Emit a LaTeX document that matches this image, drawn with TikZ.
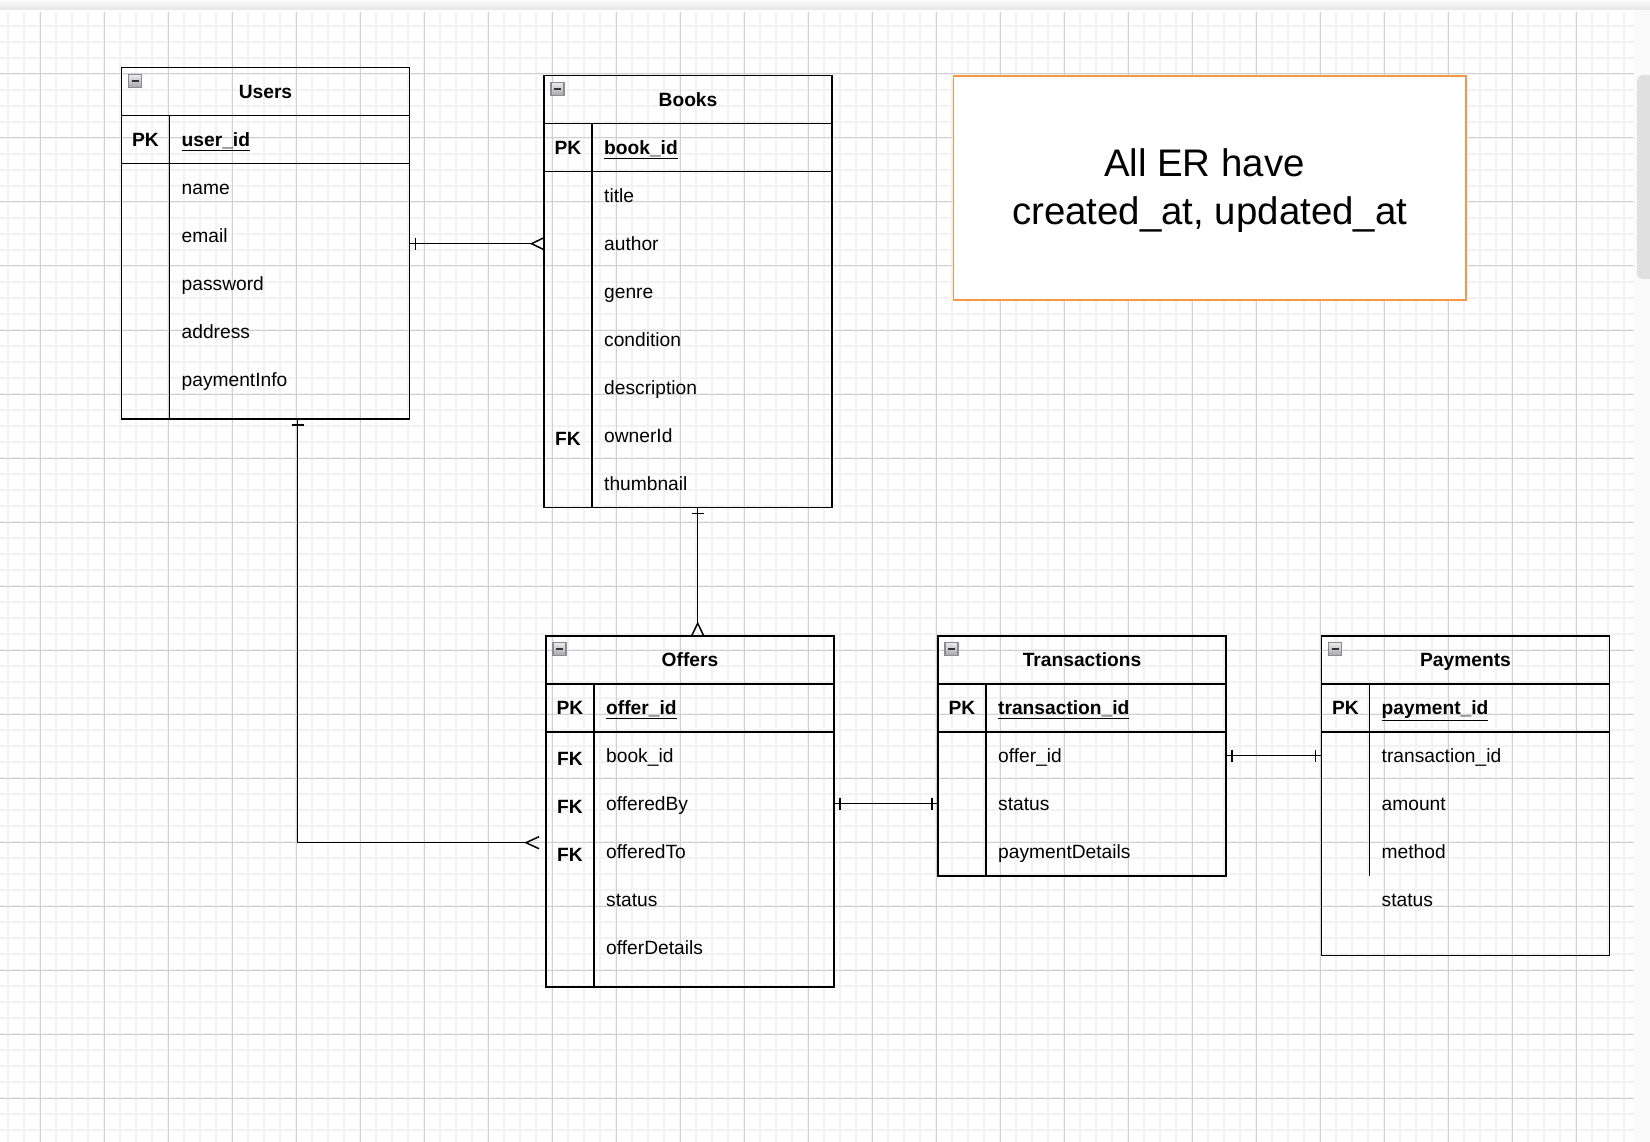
\documentclass[tikz,border=0pt]{standalone}
\usepackage{fontspec}
\setmainfont{Liberation Sans}
\usetikzlibrary{calc}

\definecolor{gridminor}{RGB}{242,242,242}
\definecolor{gridmajor}{RGB}{208,208,208}
\definecolor{noteorange}{RGB}{245,152,70}
\definecolor{iconedge}{RGB}{138,138,152}

\begin{document}
\begin{tikzpicture}[x=1pt,y=-1pt,
    tablebox/.style={draw, line width=1.6pt, anchor=north west, minimum width=288pt, inner sep=0pt, outer sep=0pt},
    tabline/.style={line width=1.6pt},
    rel/.style={line width=1.5pt},
    titletxt/.style={inner sep=0pt, text height=13pt, text depth=0pt, font=\fontsize{19.2}{23}\selectfont\bfseries},
    keytxt/.style={inner sep=0pt, text height=13.6pt, text depth=0pt, font=\fontsize{19.2}{23}\selectfont\bfseries},
    fieldtxt/.style={anchor=west, inner sep=0pt, text height=13.6pt, text depth=0pt, font=\fontsize{19.2}{23}\selectfont},
    minusbox/.style={draw=iconedge, line width=1.2pt, top color=black!8, bottom color=black!35}
  ]

        % canvas
        \useasboundingbox (0,0) rectangle (1650,1142);
        \fill[white] (0,0) rectangle (1650,1142);
        \shade[top color=black!2, bottom color=black!10] (0,0) rectangle (1650,10);
        \fill[black!2] (1634,10) rectangle (1650,1142);
        \fill[black!12, rounded corners=6pt] (1637,75) rectangle (1660,279);

        % Grid
        \foreach \gx in {8,24,...,1624} \draw[gridminor, line width=1.6pt] (\gx,12) -- (\gx,1142);
        \foreach \gy in {26,42,...,1130} \draw[gridminor, line width=1.6pt] (0,\gy) -- (1634,\gy);
        \foreach \gx in {40,104,...,1592} \draw[gridmajor, line width=1pt] (\gx,12) -- (\gx,1142);
        \foreach \gy in {74,138,...,1098} \draw[gridmajor, line width=1pt] (0,\gy) -- (1634,\gy);

        % tables
        \node[tablebox, minimum height=351.3pt] (users) at (121.5,67.7) {};
        \node[tablebox, minimum height=431.6pt] (books) at (544,75.7) {};
        \node[tablebox, minimum height=351.3pt] (offers) at (546,635.7) {};
        \node[tablebox, minimum height=240pt] (trans) at (938,635.7) {};
        \node[tablebox, minimum height=319.8pt] (pay) at (1321.5,635.7) {};

        \foreach \tb in {users,books,offers,trans,pay} {
            \draw[tabline] ([yshift=-48pt]\tb.north west) -- ([yshift=-48pt]\tb.north east);
            \draw[tabline] ([yshift=-96pt]\tb.north west) -- ([yshift=-96pt]\tb.north east);
            \draw[minusbox] ([shift={(7pt,-7pt)}]\tb.north west) rectangle ++(13,13);
            \draw[line width=2pt, black!80] ([shift={(10pt,-13.5pt)}]\tb.north west) -- ++(7,0);
        }
        \foreach \tb in {users,books,offers,trans}
            \draw[tabline] ([shift={(48pt,-48pt)}]\tb.north west) -- ([xshift=48pt]\tb.south west);
        \draw[tabline] ([shift={(48pt,-48pt)}]pay.north west) -- ([shift={(48pt,-240pt)}]pay.north west);

        \node[titletxt] (users-title) at ([yshift=-24pt]users.north) {Users};
        \node[titletxt] (books-title) at ([yshift=-24pt]books.north) {Books};
        \node[titletxt] (offers-title) at ([yshift=-24pt]offers.north) {Offers};
        \node[titletxt] (trans-title) at ([yshift=-24pt]trans.north) {Transactions};
        \node[titletxt] (pay-title) at ([yshift=-24pt]pay.north) {Payments};

        % Users
        \node[keytxt] (users-pk) at (145.5,139.7) {PK};
        \node[fieldtxt] (users-0) at (181.5,139.7) {\textbf{\underline{user\_id}}};
        \foreach \f [count=\i] in {name,email,password,address,paymentInfo}
            \node[fieldtxt] (users-\i) at (181.5,{139.7+48*\i}) {\f};

        % Books
        \node[keytxt] (books-pk) at (568,147.7) {PK};
        \node[fieldtxt] (books-0) at (604,147.7) {\textbf{\underline{book\_id}}};
        \foreach \f [count=\i] in {title,author,genre,condition,description,ownerId,thumbnail}
            \node[fieldtxt] (books-\i) at (604,{147.7+48*\i}) {\f};
        \node[keytxt, yshift=-2.5pt] (books-fk) at (568,435.7) {FK};

        % Offers
        \node[keytxt] (offers-pk) at (570,707.7) {PK};
        \node[fieldtxt] (offers-0) at (606,707.7) {\textbf{\underline{offer\_id}}};
        \foreach \f [count=\i] in {book\_id,offeredBy,offeredTo,status,offerDetails}
            \node[fieldtxt] (offers-\i) at (606,{707.7+48*\i}) {\f};
        \foreach \i in {1,2,3}
            \node[keytxt, yshift=-2.5pt] (offers-fk\i) at (570,{707.7+48*\i}) {FK};

        % Transactions
        \node[keytxt] (trans-pk) at (962,707.7) {PK};
        \node[fieldtxt] (trans-0) at (998,707.7) {\textbf{\underline{transaction\_id}}};
        \foreach \f [count=\i] in {offer\_id,status,paymentDetails}
            \node[fieldtxt] (trans-\i) at (998,{707.7+48*\i}) {\f};

        % Payments
        \node[keytxt] (pay-pk) at (1345.5,707.7) {PK};
        \node[fieldtxt] (pay-0) at (1381.5,707.7) {\textbf{\underline{payment\_id}}};
        \foreach \f [count=\i] in {transaction\_id,amount,method,status}
            \node[fieldtxt] (pay-\i) at (1381.5,{707.7+48*\i}) {\f};

        % note
        \node[draw=noteorange, fill=white, line width=1.6pt, anchor=north west, minimum width=512.6pt,
              minimum height=224.2pt, inner sep=0pt, outer sep=0pt] (note) at (953.4,75.8) {};
        \node[align=center, inner sep=0pt, font=\fontsize{38.4}{47.6}\selectfont] (note-txt)
              at ([yshift=-2.6pt]note.center) {All ER have\kern0.278em\\created\_at, updated\_at};

        % Users -- Books
        \coordinate (ub-s) at (users.east |- books-2.west);
        \coordinate (ub-t) at (books.west |- books-2.west);
        \draw[rel] (ub-s) -- ([xshift=-12.5pt]ub-t);
        \draw[rel] ([xshift=6pt,yshift=6pt]ub-s) -- ++(0,12);
        \draw[rel] ([yshift=6pt]ub-t) -- ([xshift=-12.5pt]ub-t) -- ([yshift=-6pt]ub-t);

        % Books -- Offers
        \coordinate (bo-s) at ([xshift=9.7pt]books.south);
        \coordinate (bo-t) at (bo-s |- offers.north);
        \draw[rel] (bo-s) -- ([yshift=12.4pt]bo-t);
        \draw[rel] ([shift={(-6pt,-6pt)}]bo-s) -- ++(12,0);
        \draw[rel] ([xshift=-6pt]bo-t) -- ([yshift=12.4pt]bo-t) -- ([xshift=6pt]bo-t);

        % Users -- Offers
        \coordinate (uo-s) at ([xshift=32pt]users.south);
        \coordinate (uo-t) at ([shift={(-7pt,9pt)}]offers.west |- offers-3.west);
        \draw[rel] (uo-s) |- ([xshift=-13pt]uo-t);
        \draw[rel] ([shift={(-6pt,-6pt)}]uo-s) -- ++(12,0);
        \draw[rel] ([yshift=6pt]uo-t) -- ([xshift=-13pt]uo-t) -- ([yshift=-6pt]uo-t);

        % Offers -- Transactions
        \coordinate (ot-s) at (offers.east |- trans-2.west);
        \coordinate (ot-t) at (trans.west |- trans-2.west);
        \draw[rel] (ot-s) -- (ot-t);
        \draw[rel] ([xshift=6pt,yshift=6pt]ot-s) -- ++(0,12);
        \draw[rel] ([xshift=-6pt,yshift=6pt]ot-t) -- ++(0,12);

        % Transactions -- Payments
        \coordinate (tp-s) at (trans.east |- pay-1.west);
        \coordinate (tp-t) at (pay.west |- pay-1.west);
        \draw[rel] (tp-s) -- (tp-t);
        \draw[rel] ([xshift=6pt,yshift=6pt]tp-s) -- ++(0,12);
        \draw[rel] ([xshift=-6pt,yshift=6pt]tp-t) -- ++(0,12);

    \end{tikzpicture}
\end{document}
